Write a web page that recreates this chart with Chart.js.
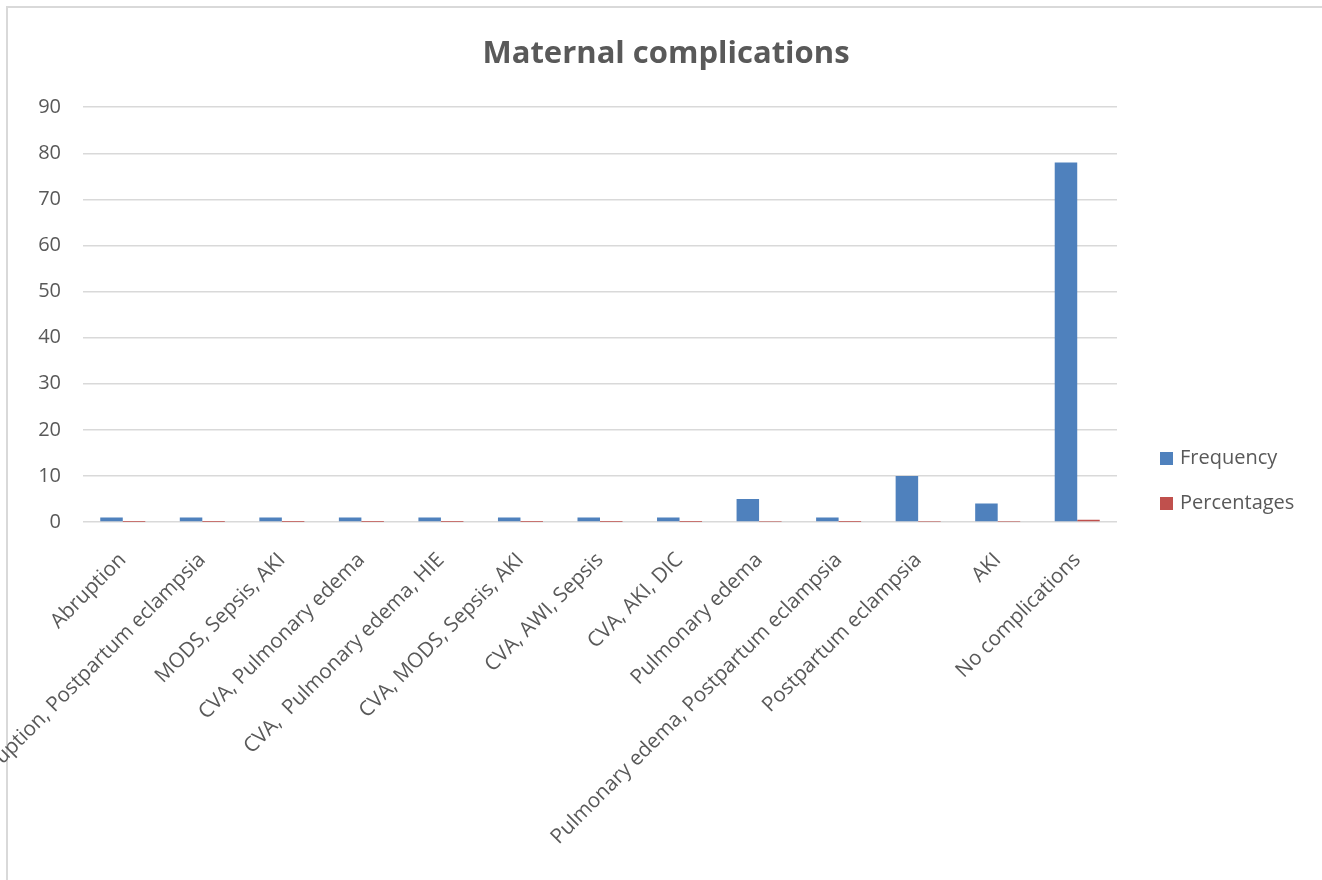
<!DOCTYPE html>
<html>
<head>
<meta charset="utf-8">
<script src="https://cdn.jsdelivr.net/npm/chart.js@4/dist/chart.umd.min.js"></script>
<style>
    html, body { margin: 0; padding: 0; background: #fff; overflow: hidden; }
    #wrap { position: relative; width: 1322px; height: 880px; overflow: hidden; }
    #frame { position: absolute; left: 6px; top: 6px; width: 1400px; height: 950px; border: 2px solid #d9d9d9; box-sizing: border-box; }
    #myChart { position: absolute; left: 0; top: 0; }
    #legend { position: absolute; left: 1160px; top: 445px; font-family: 'Open Sans', sans-serif; font-size: 20px; color: #595959; }
    #legend .item { height: 45px; display: flex; align-items: flex-start; }
    #legend .sw { width: 13px; height: 13px; margin-top: 7px; margin-right: 7px; }
    #legend .txt { line-height: 26px; margin-top: -1px; }
</style>
</head>
<body>
<div id="wrap">
    <div id="frame"></div>
    <canvas id="myChart" width="1322" height="880"></canvas>
    <div id="legend"></div>
</div>
<script>
const categories = [
    'Abruption',
    'Abruption, Postpartum eclampsia',
    'MODS, Sepsis, AKI',
    'CVA, Pulmonary edema',
    'CVA,  Pulmonary edema, HIE',
    'CVA, MODS, Sepsis, AKI',
    'CVA, AWI, Sepsis',
    'CVA, AKI, DIC',
    'Pulmonary edema',
    'Pulmonary edema, Postpartum eclampsia',
    'Postpartum eclampsia',
    'AKI',
    'No complications'
];
const frequency = [1, 1, 1, 1, 1, 1, 1, 1, 5, 1, 10, 4, 78];
const percentages = [0.01, 0.01, 0.01, 0.01, 0.01, 0.01, 0.01, 0.01, 0.03, 0.01, 0.06, 0.03, 0.5];
const seriesNames = ['Frequency', 'Percentages'];
const seriesColors = ['#4F81BD', '#C0504D'];

const txt = '#595959';
const font = 'Open Sans';

var ctx = document.getElementById('myChart').getContext('2d');
var myChart = new Chart(ctx, {
    type: 'bar',
    data: {
        labels: categories,
        datasets: [{
            label: seriesNames[0],
            data: frequency,
            backgroundColor: seriesColors[0],
            categoryPercentage: 0.566,
            barPercentage: 1
        }, {
            label: seriesNames[1],
            data: percentages,
            backgroundColor: seriesColors[1],
            categoryPercentage: 0.566,
            barPercentage: 1
        }]
    },
    options: {
        responsive: false,
        animation: false,
        layout: { padding: { left: 10, top: 0, right: 0, bottom: 0 } },
        plugins: {
            legend: { display: false },
            tooltip: { enabled: false },
            title: {
                display: true,
                text: 'Maternal complications',
                color: txt,
                font: { family: font, size: 31, weight: 'bold' },
                padding: { top: 36, bottom: 34 }
            }
        },
        scales: {
            x: {
                grid: { display: false },
                border: { display: false },
                ticks: {
                    color: txt,
                    font: { family: font, size: 20.6 },
                    autoSkip: false,
                    maxRotation: 45,
                    minRotation: 45,
                    padding: 18
                },
                afterFit: (s) => {
                    s.paddingRight = 205;
                    s.height = 358;
                }
            },
            y: {
                min: 0,
                max: 90,
                border: { display: false },
                grid: { color: '#d9d9d9', lineWidth: 1.5, drawTicks: false },
                ticks: {
                    stepSize: 10,
                    color: txt,
                    font: { family: font, size: 20 },
                    padding: 22
                },
                afterFit: (s) => {
                    s.width = 73;
                }
            }
        }
    }
});

// legend on the right, built from the series names and colours
const leg = document.getElementById('legend');
seriesNames.forEach((name, i) => {
    const row = document.createElement('div');
    row.className = 'item';
    const sw = document.createElement('span');
    sw.className = 'sw';
    sw.style.background = seriesColors[i];
    const t = document.createElement('span');
    t.className = 'txt';
    t.textContent = name;
    row.appendChild(sw);
    row.appendChild(t);
    leg.appendChild(row);
});
</script>
</body>
</html>
